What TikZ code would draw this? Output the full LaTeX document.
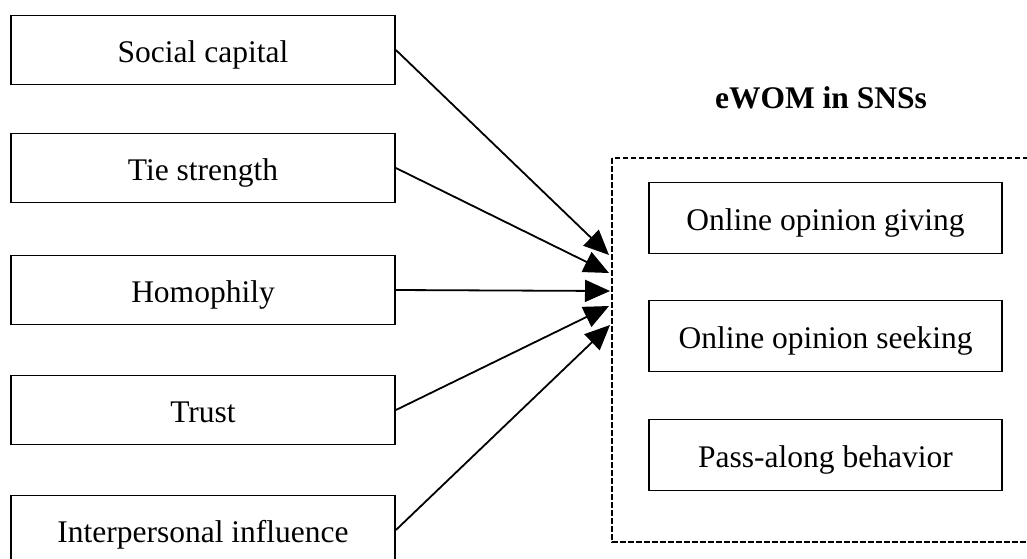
\documentclass[tikz,border=0pt]{standalone}
\usepackage{fontspec}
\setmainfont{Liberation Serif}
\usetikzlibrary{arrows.meta}

\begin{document}
\begin{tikzpicture}[x=1pt,y=-1pt,line join=miter,>={Triangle[length=25pt,width=22pt]},
	factor/.style={draw,line width=1.8pt,minimum width=384pt,minimum height=69pt,inner sep=0pt,text height=25pt,text depth=0pt,font=\fontsize{31.5}{36}\selectfont},
	behav/.style={draw,line width=1.8pt,minimum width=353pt,minimum height=71pt,inner sep=0pt,text height=25pt,text depth=0pt,font=\fontsize{31.5}{36}\selectfont}]
	\clip (0,0) rectangle (1027,558);
	% antecedents
	\node[factor] (social) at (203,50) {Social capital};
	\node[factor] (tie) at (203,168) {Tie strength};
	\node[factor] (homo) at (203,290) {Homophily};
	\node[factor] (trust) at (203,410) {Trust};
	\node[factor] (inter) at (203,530) {Interpersonal influence};
	% eWOM in SNSs
	\draw[line width=2pt,dash pattern=on 5.5pt off 2.5pt] (612,158) rectangle (1040,542);
	\node[font=\bfseries\fontsize{31.5}{36}\selectfont] (title) at (821,98) {eWOM in SNSs};
	\node[behav] (giving) at (825.5,218) {Online opinion giving};
	\node[behav] (seeking) at (825.5,336) {Online opinion seeking};
	\node[behav] (pass) at (825.5,455) {Pass-along behavior};
	% arrow tips
	\coordinate (t1) at (609,255);
	\coordinate (t2) at (609,273);
	\coordinate (t3) at (610,291);
	\coordinate (t4) at (609,306);
	\coordinate (t5) at (610,325);
	\draw[->,line width=1.8pt] (social.east) -- (t1);
	\draw[->,line width=1.8pt] (tie.east) -- (t2);
	\draw[->,line width=1.8pt] (homo.east) -- (t3);
	\draw[->,line width=1.8pt] (trust.east) -- (t4);
	\draw[->,line width=1.8pt] (inter.east) -- (t5);
\end{tikzpicture}
\end{document}
